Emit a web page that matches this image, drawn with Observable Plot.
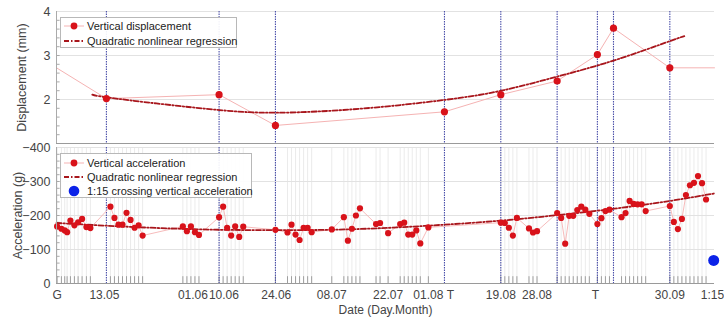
<!DOCTYPE html>
<html><head><meta charset="utf-8">
<script src="https://cdn.jsdelivr.net/npm/d3@7"></script>
<script src="https://cdn.jsdelivr.net/npm/@observablehq/plot@0.6"></script>
<style>
body{margin:0;background:#fff;font-family:"Liberation Sans",Arial,sans-serif;}
#wrap{position:relative;width:724px;height:324px;overflow:hidden;}
#top{position:absolute;left:0;top:0}
#bot{position:absolute;left:0;top:135px}
.legend{position:absolute;background:rgba(255,255,255,0.92);border:1px solid #b8b8b8;font-size:11px;color:#222;box-sizing:border-box;}
.row{position:absolute;left:0;height:14px;line-height:14px;display:flex;align-items:center;white-space:nowrap;}
.row svg{width:24px;height:14px;flex:none;}
</style></head>
<body><div id="wrap"><div id="top"></div><div id="bot"></div></div>
<script>
// ---- data (x = days after 01.05) ----
const dispDays = [12, 40, 54, 96, 110, 124, 134, 138, 152];
const dispVals = [2.02, 2.11, 1.41, 1.72, 2.11, 2.42, 3.02, 3.62, 2.72];
const dispTraceDays = [-0.4, 12, 40, 54, 96, 110, 124, 134, 138, 152, 163.1];
const dispTraceVals = [2.72, 2.02, 2.11, 1.41, 1.72, 2.11, 2.42, 3.02, 3.62, 2.72, 2.72];
const dispFitDays = [8.5, 12, 25.4, 40.1, 54.2, 75.1, 96, 110.1, 124, 138.2, 152.1, 155.6];
const dispFitVals = [2.11, 2.05, 1.90, 1.76, 1.70, 1.79, 1.99, 2.20, 2.52, 2.89, 3.33, 3.44];

const accDays = [-0.25,0.82,1.64,2.24,3.06,4.05,4.97,5.96,7.03,8.02,
  13,14,15,16,17,18,19,20,21,
  31,32,33,34,35,
  40,41,42,43,44,45,46,
  54,57,58,59,60,61,62,63,
  68,71,72,73,74,75,
  79,80,82,85,86,87,88,89,90,92,
  110,111,112,113,114,117,118,119,
  124,125,126,127,128,129,130,131,132,
  134,135,136,137,
  140,141,142,143,144,145,146,
  152,153,154,155,156,157,158,159,160,161];
const accVals = [-168,-161,-156,-151,-185,-171,-180,-190,-166,-163,
  -226,-193,-173,-173,-208,-187,-164,-171,-141,
  -168,-154,-168,-151,-143,
  -195,-226,-164,-141,-168,-137,-167,
  -158,-150,-173,-144,-128,-164,-164,-151,
  -159,-195,-126,-161,-200,-221,
  -175,-178,-148,-175,-179,-144,-144,-156,-118,-165,
  -179,-178,-164,-141,-193,-162,-150,-154,
  -207,-193,-117,-199,-199,-216,-226,-217,-205,
  -175,-192,-213,-217,
  -195,-207,-243,-234,-233,-233,-213,
  -228,-181,-160,-190,-260,-289,-296,-316,-295,-247];
const accFitDays = [-0.4, 12, 25.4, 40.3, 54.2, 67.7, 82.6, 96, 110.1, 124, 138.2, 152.1, 163.1];
const accFitVals = [-178, -170, -163, -158, -157, -158, -164, -173, -185, -201, -220, -243, -265];
const crossDays = [162.9];
const crossVals = [-68];

const eventDays = [12, 40, 54, 96, 110, 124, 134, 138, 152];
const tickDays = [-0.25, 11.5, 33.5, 41.2, 54.2, 68, 82, 92, 97.5, 110, 119, 133.5, 152, 162.6];
const tickLabels = ["G","13.05","01.06","10.06","24.06","08.07","22.07","01.08","T","19.08","28.08","T","30.09","1:15"];
const dispTicks = [2, 3, 4];
const accTicks = [0, -100, -200, -300, -400];
const accTickLabels = ["0", "\u2212100", "\u2212200", "\u2212300", "\u2212400"];

// ---- tables ----
const disp = dispDays.map((d,i)=>({day:d, v:dispVals[i]}));
const dispTrace = dispTraceDays.map((d,i)=>({day:d, v:dispTraceVals[i]}));
const dispFit = dispFitDays.map((d,i)=>({day:d, v:dispFitVals[i]}));
const acc = accDays.map((d,i)=>({day:d, v:accVals[i]}));
const accFit = accFitDays.map((d,i)=>({day:d, v:accFitVals[i]}));
const cross = crossDays.map((d,i)=>({day:d, v:crossVals[i]}));
const accTickRows = accTicks.map((v,i)=>({v, label: accTickLabels[i]}));
const labelByDay = new Map(tickDays.map((d,i)=>[d, tickLabels[i]]));

const xDomain = [-0.4, 163.1];
const RED = "#d8121a", PINK = "#f5b3b3", FIT = "#a8161c", BLUE = "#4b50aa";
const fitStyle = {stroke: FIT, strokeWidth: 1.8, strokeDasharray: "5,2,1.5,2", curve: "natural"};
const evStyle = {stroke: BLUE, strokeWidth: 1.1, strokeDasharray: "1.5,1"};
const common = {
  width: 724, marginLeft: 56, marginRight: 10,
  style: {fontFamily: "Liberation Sans, Arial, sans-serif", fontSize: "12.5px", color: "#444", background: "transparent"}
};

const topChart = Plot.plot({
  ...common, height: 145, marginTop: 11, marginBottom: 2,
  x: {domain: xDomain, axis: null},
  y: {domain: [1, 4], axis: null},
  marks: [
    Plot.ruleY(dispTicks, {stroke: "#e2e2e2"}),
    Plot.ruleY(d3.range(1.2, 4, 0.2), {x1: xDomain[0], x2: xDomain[0] + 0.9, stroke: "#aaa"}),
    Plot.ruleX(eventDays, evStyle),
    Plot.line(dispTrace, {x: "day", y: "v", stroke: PINK, strokeWidth: 1}),
    Plot.line(dispFit, {x: "day", y: "v", ...fitStyle}),
    Plot.dot(disp, {x: "day", y: "v", r: 3.6, fill: RED}),
    Plot.ruleY([1], {stroke: "#9a9a9a"}),
    Plot.ruleX([xDomain[0]], {stroke: "#aaa"}),
    Plot.axisY({ticks: dispTicks, tickFormat: d => String(d), tickSize: 0, tickPadding: 6, fontSize: 12.5,
      label: "Displacement (mm)", labelAnchor: "center", labelArrow: "none", labelOffset: 39})
  ]
});
document.getElementById("top").appendChild(topChart);

const botChart = Plot.plot({
  ...common, height: 189, marginTop: 12, marginBottom: 41,
  x: {domain: xDomain},
  y: {domain: [0, -400]},
  marks: [
    Plot.ruleX(accDays, {stroke: "#ebebeb"}),
    Plot.ruleY([-100, -200, -300, -400], {stroke: "#e2e2e2"}),
    Plot.ruleY(d3.range(-20, -400, -20), {x1: xDomain[0], x2: xDomain[0] + 0.9, stroke: "#aaa"}),
    Plot.ruleX(accDays, {y1: 0, y2: -20, stroke: "#8a8a8a", strokeWidth: 0.8}),
    Plot.ruleX(eventDays, evStyle),
    Plot.line(acc, {x: "day", y: "v", stroke: PINK, strokeWidth: 0.9}),
    Plot.line(accFit, {x: "day", y: "v", ...fitStyle}),
    Plot.dot(acc, {x: "day", y: "v", r: 3.1, fill: RED}),
    Plot.dot(cross, {x: "day", y: "v", r: 5.5, fill: "#0b22e8"}),
    Plot.ruleY([0], {stroke: "#9a9a9a"}),
    Plot.ruleX([xDomain[0]], {stroke: "#aaa"}),
    Plot.axisY({ticks: accTicks, tickFormat: () => "", tickSize: 0, tickPadding: 6,
      label: "Acceleration (g)", labelAnchor: "center", labelArrow: "none", labelOffset: 43}),
    Plot.text(accTickRows, {y: "v", text: "label", frameAnchor: "left", dx: -6, textAnchor: "end", fontSize: 12.5, fill: "#444"}),
    Plot.axisX({ticks: tickDays, tickFormat: d => labelByDay.get(d), tickSize: 0, tickPadding: 7, fontSize: 12,
      label: "Date (Day.Month)", labelAnchor: "center", labelArrow: "none", labelOffset: 30})
  ]
});
document.getElementById("bot").appendChild(botChart);

// ---- legends ----
function legend(left, top, w, h, rows) {
  const box = document.createElement("div");
  box.className = "legend";
  Object.assign(box.style, {left: left + "px", top: top + "px", width: w + "px", height: h + "px"});
  rows.forEach((r) => {
    const row = document.createElement("div");
    row.className = "row";
    row.style.top = (r.y - 7) + "px";
    row.style.left = "2px";
    let sym = "";
    if (r.kind === "dot") sym = `<line x1="1" y1="7" x2="21" y2="7" stroke="${PINK}" stroke-width="1"/><circle cx="11" cy="7" r="3.4" fill="${RED}"/>`;
    if (r.kind === "fit") sym = `<line x1="1" y1="7" x2="22" y2="7" stroke="${FIT}" stroke-width="1.8" stroke-dasharray="5,2,1.5,2"/>`;
    if (r.kind === "blue") sym = `<circle cx="11" cy="7" r="5.3" fill="#0b22e8"/>`;
    row.innerHTML = `<svg viewBox="0 0 24 14">${sym}</svg><span>${r.text}</span>`;
    box.appendChild(row);
  });
  document.getElementById("wrap").appendChild(box);
}
legend(60, 17, 177, 31, [
  {y: 8, kind: "dot", text: "Vertical displacement"},
  {y: 23, kind: "fit", text: "Quadratic nonlinear regression"}
]);
legend(60, 153, 192, 45, [
  {y: 9, kind: "dot", text: "Vertical acceleration"},
  {y: 23, kind: "fit", text: "Quadratic nonlinear regression"},
  {y: 37, kind: "blue", text: "1:15 crossing vertical acceleration"}
]);
</script>
</body></html>
